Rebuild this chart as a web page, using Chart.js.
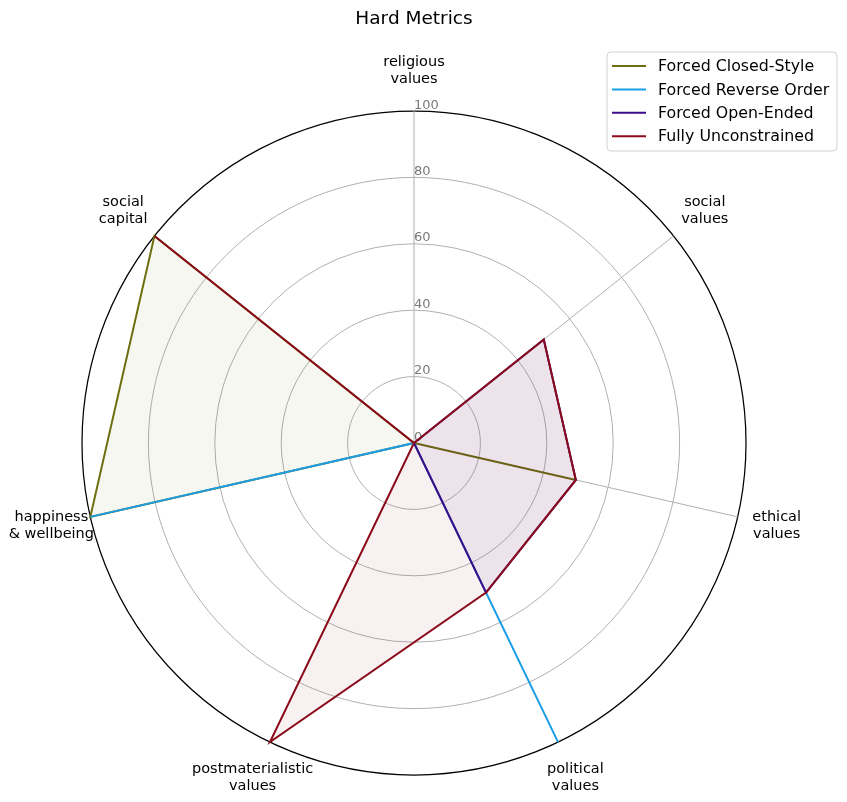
<!DOCTYPE html>
<html>
<head>
<meta charset="utf-8">
<script src="https://cdn.jsdelivr.net/npm/chart.js@4/dist/chart.umd.min.js"></script>
<style>
html,body{margin:0;padding:0;background:#fff;}
#wrap{position:relative;width:847px;height:802px;}
</style>
</head>
<body>
<div id="wrap"><canvas id="c" width="847" height="802"></canvas></div>
<script>
// ---- data ----
const chartTitle = 'Hard Metrics';
const categories = [
  ['religious', 'values'],
  ['social', 'values'],
  ['ethical', 'values'],
  ['political', 'values'],
  ['postmaterialistic', 'values'],
  ['happiness', '& wellbeing'],
  ['social', 'capital']
];
const seriesNames = ['Forced Closed-Style', 'Forced Reverse Order', 'Forced Open-Ended', 'Fully Unconstrained'];
const forcedClosedStyle   = [0, 0, 50, 0, 0, 100, 100];
const forcedReverseOrder  = [0, 0, 0, 100, 0, 100, 0];
const forcedOpenEnded     = [0, 50, 50, 50, 0, 0, 0];
const fullyUnconstrained  = [0, 50, 50, 50, 100, 0, 100];
const tickValues = [0, 20, 40, 60, 80, 100];

// ---- styles ----
const lineColors = ['#6e6e10', '#1a9ee6', '#3b0c8c', '#8b0a1a'];
const fillColors = ['rgba(110,110,16,0.055)', 'rgba(26,158,230,0.055)', 'rgba(59,12,140,0.06)', 'rgba(139,10,26,0.06)'];
const FONT = '"DejaVu Sans", "Liberation Sans", sans-serif';

const allSeries = [forcedClosedStyle, forcedReverseOrder, forcedOpenEnded, fullyUnconstrained];

const extras = {
  id: 'extras',
  beforeDatasetsDraw(chart) {
    const s = chart.scales.r, ctx = chart.ctx;
    ctx.save();
    ctx.font = '13px ' + FONT;
    ctx.fillStyle = '#7a7a7a';
    ctx.textAlign = 'left';
    ctx.textBaseline = 'alphabetic';
    tickValues.forEach(v => {
      const d = s.getDistanceFromCenterForValue(v);
      ctx.fillText(String(v), s.xCenter, s.yCenter - d - 2.5);
    });
    ctx.restore();
  },
  afterDraw(chart) {
    const s = chart.scales.r, ctx = chart.ctx;
    ctx.save();
    // point labels
    ctx.font = '14.5px ' + FONT;
    ctx.fillStyle = '#000';
    ctx.textAlign = 'center';
    ctx.textBaseline = 'middle';
    const lh = 17;
    categories.forEach((lab, i) => {
      const p = s.getPointPosition(i, s.drawingArea + 40);
      const n = lab.length;
      lab.forEach((t, k) => {
        ctx.fillText(t, p.x, p.y + (k - (n - 1) / 2) * lh);
      });
    });
    // title
    ctx.font = '18.5px ' + FONT;
    ctx.textBaseline = 'alphabetic';
    ctx.fillText(chartTitle, s.xCenter, 24);
    // legend
    const bx = 607, by = 52, bw = 230, bh = 99, r = 4;
    ctx.beginPath();
    ctx.moveTo(bx + r, by);
    ctx.arcTo(bx + bw, by, bx + bw, by + bh, r);
    ctx.arcTo(bx + bw, by + bh, bx, by + bh, r);
    ctx.arcTo(bx, by + bh, bx, by, r);
    ctx.arcTo(bx, by, bx + bw, by, r);
    ctx.closePath();
    ctx.fillStyle = 'rgba(255,255,255,0.8)';
    ctx.fill();
    ctx.strokeStyle = '#d0d0d0';
    ctx.lineWidth = 1;
    ctx.stroke();
    ctx.font = '15.8px ' + FONT;
    ctx.textAlign = 'left';
    ctx.textBaseline = 'middle';
    chart.data.datasets.forEach((ds, i) => {
      const y = 66 + i * 23.4;
      ctx.strokeStyle = ds.borderColor;
      ctx.lineWidth = 2;
      ctx.beginPath();
      ctx.moveTo(612, y);
      ctx.lineTo(646, y);
      ctx.stroke();
      ctx.fillStyle = '#000';
      ctx.fillText(ds.label, 658, y + 1);
    });
    ctx.restore();
  }
};

new Chart(document.getElementById('c'), {
  type: 'radar',
  data: {
    labels: categories,
    datasets: seriesNames.map((name, i) => ({
      label: name,
      data: allSeries[i],
      borderColor: lineColors[i],
      backgroundColor: fillColors[i],
      borderWidth: 2,
      borderJoinStyle: 'miter',
      pointRadius: 0,
      pointHoverRadius: 0,
      fill: true,
      order: 3 - i
    }))
  },
  options: {
    responsive: false,
    animation: false,
    layout: { padding: { left: 82, right: 101, top: 111, bottom: 27 } },
    plugins: {
      legend: { display: false },
      title: { display: false },
      tooltip: { enabled: false }
    },
    scales: {
      r: {
        min: 0,
        max: 100,
        beginAtZero: true,
        ticks: { display: false, stepSize: 20 },
        pointLabels: { display: false },
        grid: {
          circular: true,
          color: (c) => (c.tick && c.tick.value === 100 ? '#000000' : '#b0b0b0'),
          lineWidth: (c) => (c.tick && c.tick.value === 100 ? 1.25 : 1)
        },
        angleLines: { color: '#b0b0b0', lineWidth: 1 }
      }
    }
  },
  plugins: [extras]
});
</script>
</body>
</html>
